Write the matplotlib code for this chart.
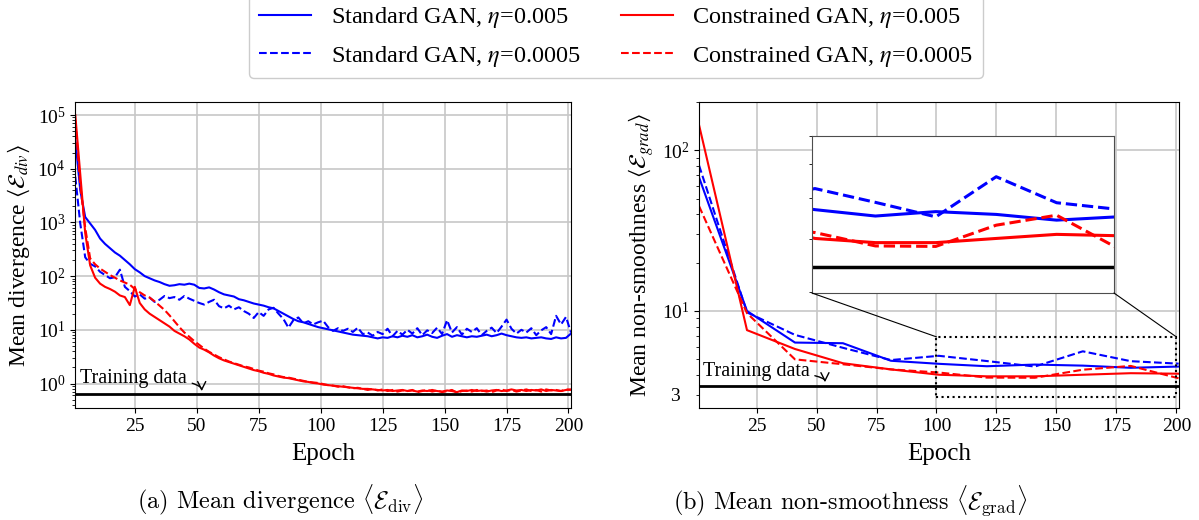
import numpy as np
import matplotlib
matplotlib.use("Agg")
import matplotlib.pyplot as plt
from matplotlib.patches import Rectangle, ConnectionPatch
from matplotlib.ticker import FuncFormatter, NullFormatter

plt.rcParams['font.family'] = ['Liberation Serif', 'DejaVu Serif']
plt.rcParams['mathtext.fontset'] = 'stix'

# ---- (a) mean divergence, every second epoch, stored as log10 values
epochs_div = list(range(1, 202, 2))

std_005_div_log = [
    4.55, 3.60, 3.10, 2.98, 2.86, 2.70, 2.60, 2.52, 2.44, 2.38,
    2.30, 2.22, 2.13, 2.07, 2.00, 1.96, 1.92, 1.89, 1.85, 1.82,
    1.83, 1.85, 1.84, 1.86, 1.84, 1.78, 1.77, 1.79, 1.75, 1.70,
    1.66, 1.64, 1.62, 1.57, 1.55, 1.52, 1.49, 1.47, 1.45, 1.42,
    1.40, 1.35, 1.30, 1.25, 1.20, 1.16, 1.14, 1.11, 1.08, 1.05,
    1.03, 1.01, 0.99, 0.97, 0.95, 0.93, 0.91, 0.90, 0.89, 0.88,
    0.86, 0.84, 0.86, 0.85, 0.88, 0.86, 0.89, 0.87, 0.90, 0.86,
    0.88, 0.91, 0.87, 0.85, 0.89, 0.92, 0.87, 0.90, 0.88, 0.86,
    0.88, 0.87, 0.89, 0.91, 0.88, 0.90, 0.93, 0.90, 0.88, 0.86,
    0.85, 0.86, 0.84, 0.85, 0.86, 0.84, 0.83, 0.86, 0.84, 0.85, 0.93]

std_0005_div_log = [
    3.85, 2.98, 2.35, 2.23, 2.18, 2.08, 2.02, 1.96, 1.98, 2.12,
    1.80, 1.72, 1.62, 1.66, 1.58, 1.60, 1.52, 1.56, 1.63, 1.59,
    1.61, 1.56, 1.63, 1.58, 1.54, 1.50, 1.47, 1.52, 1.56, 1.44,
    1.40, 1.45, 1.38, 1.42, 1.35, 1.30, 1.22, 1.33, 1.26, 1.38,
    1.41, 1.30, 1.20, 1.04, 1.18, 1.23, 1.12, 1.16, 1.10, 1.14,
    1.17, 1.05, 0.98, 1.03, 0.98, 1.02, 0.96, 1.04, 0.92, 0.95,
    0.89, 0.96, 0.92, 1.02, 0.88, 0.98, 0.91, 1.00, 0.93, 1.03,
    0.90, 0.99, 0.94, 1.04, 0.92, 1.18, 0.95, 1.05, 0.91, 1.02,
    0.96, 1.03, 0.90, 0.98, 1.04, 0.94, 1.06, 1.19, 1.02, 0.93,
    1.00, 0.95, 1.03, 0.90, 0.99, 1.05, 0.92, 1.26, 1.10, 1.24, 0.95]

con_005_div_log = [
    5.00, 3.90, 2.80, 2.20, 1.97, 1.86, 1.80, 1.76, 1.71, 1.64,
    1.61, 1.46, 1.80, 1.50, 1.38, 1.30, 1.24, 1.18, 1.12, 1.06,
    0.98, 0.93, 0.88, 0.82, 0.74, 0.67, 0.63, 0.58, 0.52, 0.47,
    0.43, 0.40, 0.37, 0.34, 0.31, 0.28, 0.25, 0.23, 0.20, 0.18,
    0.15, 0.13, 0.11, 0.10, 0.08, 0.06, 0.04, 0.03, 0.01, 0.00,
    -0.02, -0.03, -0.04, -0.05, -0.06, -0.07, -0.08, -0.09, -0.10, -0.10,
    -0.11, -0.12, -0.13, -0.12, -0.14, -0.13, -0.12, -0.14, -0.13, -0.15,
    -0.13, -0.14, -0.12, -0.14, -0.15, -0.13, -0.14, -0.16, -0.13, -0.14,
    -0.12, -0.14, -0.13, -0.15, -0.13, -0.12, -0.14, -0.13, -0.11, -0.13,
    -0.12, -0.14, -0.12, -0.13, -0.11, -0.14, -0.12, -0.13, -0.14, -0.12, -0.11]

con_0005_div_log = [
    4.90, 3.70, 2.90, 2.33, 2.22, 2.14, 2.08, 2.02, 1.97, 1.92,
    1.88, 1.84, 1.76, 1.70, 1.64, 1.60, 1.53, 1.45, 1.37, 1.27,
    1.16, 1.05, 0.95, 0.87, 0.79, 0.72, 0.65, 0.59, 0.54, 0.49,
    0.45, 0.41, 0.38, 0.35, 0.32, 0.30, 0.27, 0.24, 0.22, 0.19,
    0.17, 0.14, 0.12, 0.11, 0.09, 0.07, 0.05, 0.03, 0.02, 0.01,
    -0.01, -0.03, -0.04, -0.06, -0.05, -0.07, -0.09, -0.08, -0.10, -0.12,
    -0.10, -0.13, -0.11, -0.14, -0.12, -0.15, -0.13, -0.14, -0.12, -0.16,
    -0.14, -0.12, -0.15, -0.13, -0.16, -0.14, -0.12, -0.17, -0.14, -0.13,
    -0.15, -0.12, -0.14, -0.13, -0.16, -0.13, -0.11, -0.14, -0.12, -0.15,
    -0.13, -0.11, -0.14, -0.12, -0.15, -0.11, -0.13, -0.12, -0.14, -0.11, -0.12]

train_div = 0.64

# ---- (b) mean non-smoothness, every 20 epochs
epochs_grad = [1, 21, 41, 61, 81, 101, 121, 141, 161, 181, 201]
std_005_grad = [68, 10.0, 6.36, 6.3, 4.9, 4.69, 4.53, 4.64, 4.57, 4.43, 4.51]
std_0005_grad = [80.7, 9.8, 7.1, 5.9, 4.95, 5.26, 4.88, 4.51, 5.61, 4.87, 4.70]
con_005_grad = [144, 7.6, 5.8, 4.73, 4.33, 4.01, 3.92, 3.92, 4.01, 4.10, 4.07]
con_0005_grad = [45, 9.7, 5.0, 4.66, 4.33, 4.14, 3.85, 3.84, 4.31, 4.55, 3.81]
train_grad = 3.43

labels = ['Standard GAN, $\\eta$=0.005', 'Standard GAN, $\\eta$=0.0005',
          'Constrained GAN, $\\eta$=0.005', 'Constrained GAN, $\\eta$=0.0005']
colors = ['blue', 'blue', 'red', 'red']
styles = ['-', '--', '-', '--']
xticks = [25, 50, 75, 100, 125, 150, 175, 200]

fig = plt.figure(figsize=(11.99, 5.2), dpi=100)
ax1 = fig.add_axes([0.0628, 0.2154, 0.4134, 0.5885])
ax2 = fig.add_axes([0.583, 0.2154, 0.4001, 0.5885])

arrow_kw = dict(arrowstyle='->', color='k', lw=1,
                connectionstyle='angle3,angleA=0,angleB=90', shrinkA=2, shrinkB=0)

# left panel
div_series = [std_005_div_log, std_0005_div_log, con_005_div_log, con_0005_div_log]
handles = []
for vals, c, ls, lab in zip(div_series, colors, styles, labels):
    h, = ax1.plot(epochs_div, 10 ** np.array(vals), color=c, ls=ls, lw=1.5, label=lab)
    handles.append(h)
ax1.axhline(train_div, color='k', lw=2)
ax1.set_yscale('log')
ax1.set_ylim(0.35, 1.75e5)
ax1.set_xlim(1, 201)
ax1.set_xticks(xticks)
ax1.grid(True, which='major', color='0.78', lw=1.2)
ax1.set_xlabel('Epoch', fontsize=18, labelpad=6)
ax1.set_ylabel(r'Mean divergence $\langle\mathcal{E}_{div}\rangle$', fontsize=17)
ax1.tick_params(which='both', labelsize=14)
ax1.annotate('Training data', xy=(52, 0.72), xytext=(2.9, 1.26), fontsize=14.5,
             ha='left', va='center', arrowprops=arrow_kw)

# right panel
grad_series = [std_005_grad, std_0005_grad, con_005_grad, con_0005_grad]
for vals, c, ls in zip(grad_series, colors, styles):
    ax2.plot(epochs_grad, vals, color=c, ls=ls, lw=1.5)
ax2.axhline(train_grad, color='k', lw=2)
ax2.set_yscale('log')
ax2.set_ylim(2.49, 200)
ax2.set_xlim(1, 201)
ax2.set_xticks(xticks)
ax2.yaxis.set_minor_formatter(FuncFormatter(lambda v, p: '3' if abs(v - 3) < 1e-6 else ''))
ax2.grid(True, which='major', color='0.78', lw=1.2)
ax2.set_xlabel('Epoch', fontsize=18, labelpad=6)
ax2.set_ylabel(r'Mean non-smoothness $\langle\mathcal{E}_{grad}\rangle$', fontsize=17)
ax2.tick_params(which='both', labelsize=14)
ax2.tick_params(axis='y', which='minor', pad=12)
ax2.annotate('Training data', xy=(53.5, 3.6), xytext=(2.5, 4.19), fontsize=14.5,
             ha='left', va='center', arrowprops=arrow_kw)

# zoom box + inset
box_lo, box_hi = 2.93, 6.9
ax2.add_patch(Rectangle((100, box_lo), 100, box_hi - box_lo, fill=False,
                        ls=':', lw=1.5, ec='k', zorder=5))
axin = fig.add_axes([0.6772, 0.4365, 0.2519, 0.3019])
for vals, c, ls in zip(grad_series, colors, styles):
    axin.plot(epochs_grad, vals, color=c, ls=ls, lw=2.2)
axin.axhline(train_grad, color='k', lw=2.5)
axin.set_yscale('log')
axin.set_xlim(100, 200)
axin.set_ylim(2.98, 7.0)
axin.set_xticks([])
axin.yaxis.set_major_formatter(NullFormatter())
axin.yaxis.set_minor_formatter(NullFormatter())
for s in axin.spines.values():
    s.set_color('0.3')
for xa, xd in [(0, 100), (1, 200)]:
    con = ConnectionPatch(xyA=(xa, 0), coordsA=axin.transAxes,
                          xyB=(xd, box_hi), coordsB=ax2.transData,
                          color='k', lw=0.8)
    fig.add_artist(con)

fig.legend(handles, labels, loc='lower center', bbox_to_anchor=(0.5138, 0.826), ncol=2,
           fontsize=17.5, handlelength=2.14, handletextpad=0.8, columnspacing=1.65,
           labelspacing=0.55, fancybox=True, edgecolor='0.8', framealpha=1)

fig.text(0.2335, 0.038, r'(a) Mean divergence $\langle\mathcal{E}_{\mathrm{div}}\rangle$',
         family='cmr10', math_fontfamily='cm', fontsize=17.5, ha='center', va='center')
fig.text(0.709, 0.038, r'(b) Mean non-smoothness $\langle\mathcal{E}_{\mathrm{grad}}\rangle$',
         family='cmr10', math_fontfamily='cm', fontsize=17.5, ha='center', va='center')

fig.savefig('out.png', dpi=100)
